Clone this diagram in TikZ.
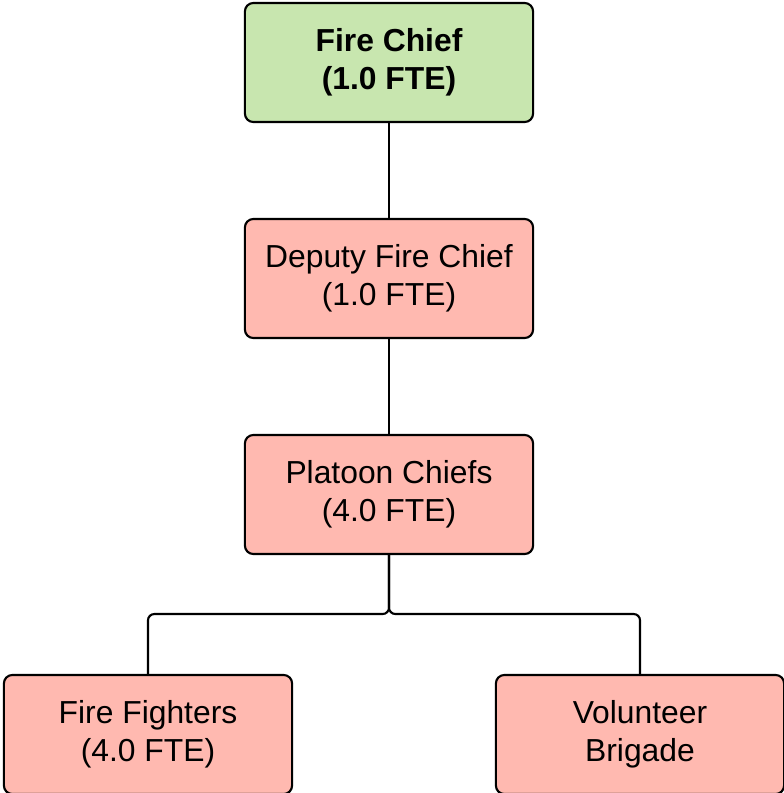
\documentclass[tikz,border=0pt]{standalone}
\usepackage{fontspec}
\setmainfont{Liberation Sans}
\definecolor{chiefgreen}{HTML}{C8E6AF}
\definecolor{boxpink}{HTML}{FFB9B0}
\begin{document}
\begin{tikzpicture}[x=0.01cm,y=-0.01cm,
  orgbox/.style={draw=black, line width=0.6pt, rounded corners=2.4pt,
    minimum width=2.88cm, minimum height=1.19cm, inner sep=0pt, align=center,
    font=\fontsize{9.05pt}{10.8pt}\selectfont},
  link/.style={draw=black, line width=0.6pt, rounded corners=1.8pt}]
\clip (0,0) rectangle (784,793);
\fill[white] (0,0) rectangle (784,793);
\node[orgbox, fill=chiefgreen, font=\fontsize{9.05pt}{10.8pt}\selectfont\bfseries] (fc) at (389,62.5) {Fire Chief\\(1.0 FTE)};
\node[orgbox, fill=boxpink] (dfc) at (389,278.5) {Deputy Fire Chief\\(1.0 FTE)};
\node[orgbox, fill=boxpink] (pc) at (389,494.5) {Platoon Chiefs\\(4.0 FTE)};
\node[orgbox, fill=boxpink] (ff) at (148,734.5) {Fire Fighters\\(4.0 FTE)};
\node[orgbox, fill=boxpink] (vb) at (640,734.5) {Volunteer\\Brigade};
\coordinate (j) at (389,614);
\draw[link] (fc.south) -- (dfc.north);
\draw[link] (dfc.south) -- (pc.north);
\draw[link] (pc.south) -- (j) -| (ff.north);
\draw[link] (pc.south) -- (j) -| (vb.north);
\end{tikzpicture}
\end{document}
